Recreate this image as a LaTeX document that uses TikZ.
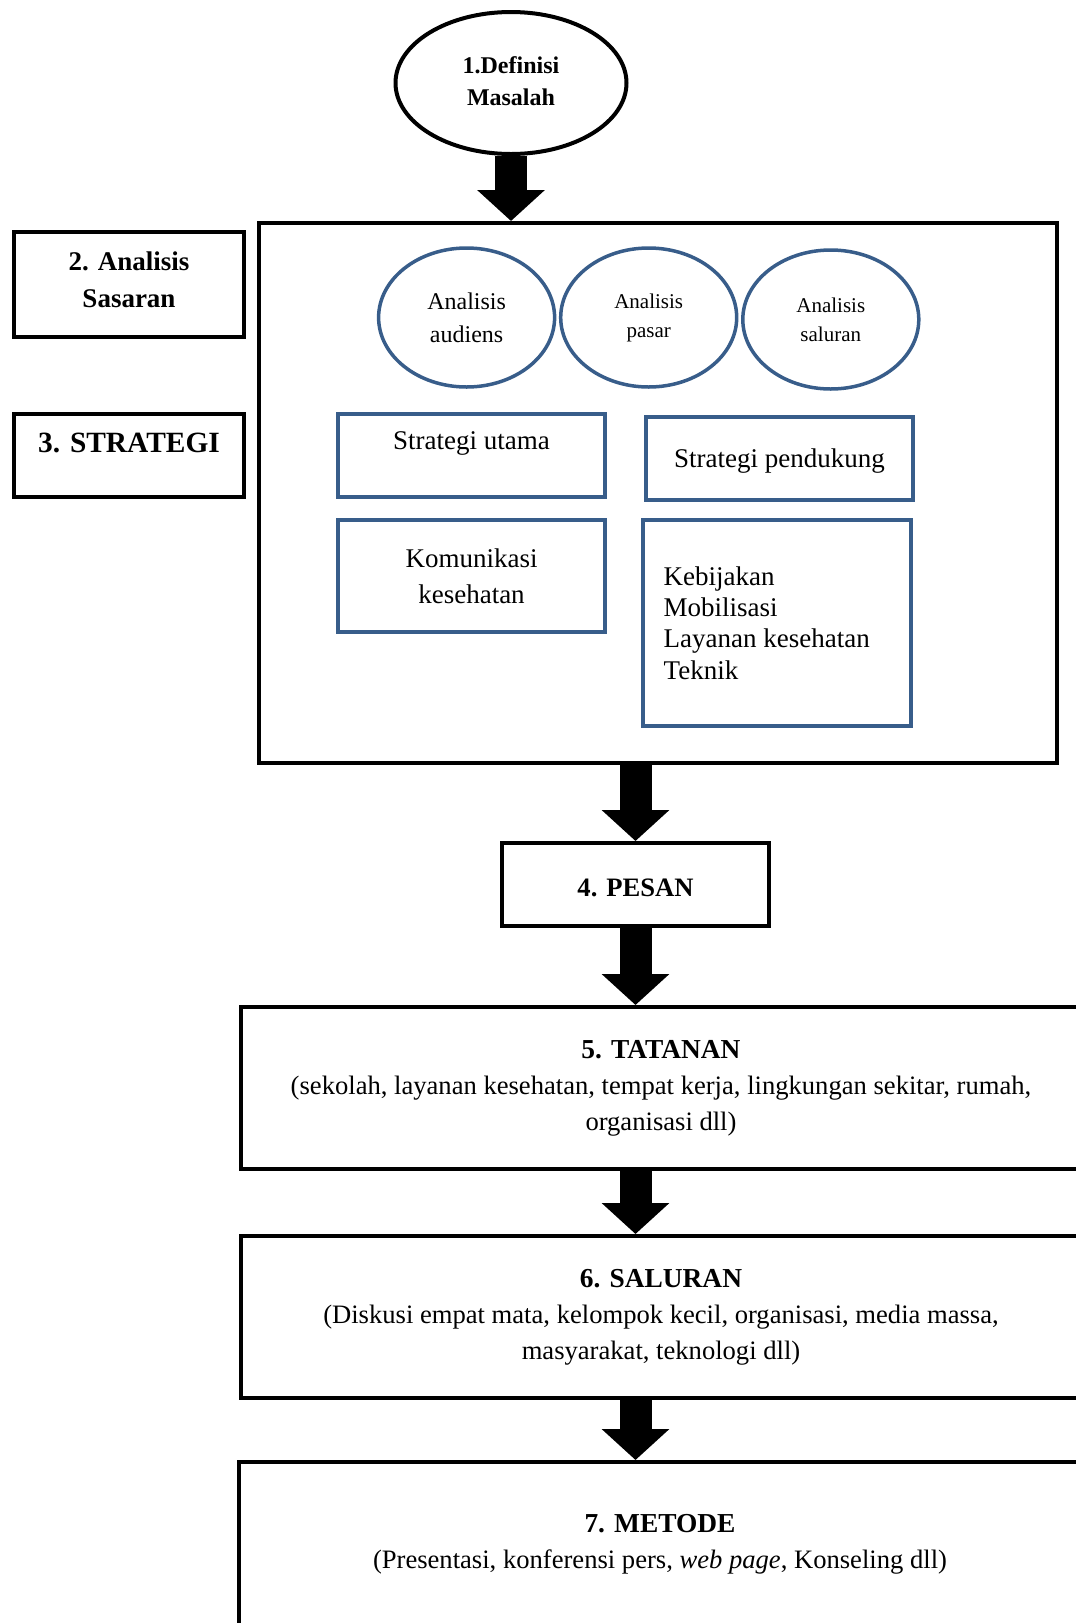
\documentclass[tikz,border=0pt]{standalone}
\usepackage{fontspec}
\setmainfont{Liberation Serif}
\usetikzlibrary{positioning, arrows.meta, shapes.geometric}
\definecolor{bluebox}{RGB}{56,93,138}
\newcommand{\setfs}[2]{\fontsize{#1}{#2}\selectfont}

\begin{document}
\begin{tikzpicture}[x=0.5pt, y=-0.5pt,
    blk/.style={draw=black, line width=2pt, rectangle, inner sep=0pt},
    blu/.style={draw=bluebox, line width=1.75pt, rectangle, inner sep=0pt},
    oval/.style={draw=bluebox, line width=1.75pt, ellipse, inner sep=0pt,
        minimum width=88pt, minimum height=69.5pt, align=center},
    teks/.style={inner sep=0pt, align=center},
    panah/.style={line width=16pt, -{Triangle[width=33pt, length=15.5pt]}}]
    \useasboundingbox (0,0) rectangle (1076,1623);
    \clip (0,0) rectangle (1076,1623);

    % langkah 1
    \node[ellipse, draw, line width=2pt, inner sep=0pt, minimum width=115.5pt, minimum height=71pt] (definisi) at (511,83) {};
    \node[teks, font=\setfs{12}{16}\bfseries] (definisit) at ([yshift=1pt]definisi.center) {1.Definisi\\Masalah};

    % kotak besar dan label kiri
    \node[blk, minimum width=399pt, minimum height=270pt] (kerangka) at (658,493) {};
    \node[blk, minimum width=115pt, minimum height=52.5pt] (sasaran) at (129,284.5) {};
    \node[teks, font=\setfs{13.5}{18.5}\bfseries] (sasarant) at ([yshift=2.6pt]sasaran.center) {2. Analisis\\Sasaran};
    \node[blk, minimum width=115pt, minimum height=41.5pt] (strategi) at (129,455.5) {};
    \node[teks, below=10.5pt of strategi.north, font=\setfs{14.7}{17}\bfseries] (strategit) {3. STRATEGI};

    % analisis
    \node[oval, font=\setfs{12}{16.5}] (audiens) at (466.6,317.5) {Analisis\\audiens};
    \node[oval, font=\setfs{10.5}{14.5}] (pasar) at (648.7,317.5) {Analisis\\pasar};
    \node[oval, font=\setfs{10.5}{14.5}] (kanal) at (830.8,319.5) {Analisis\\saluran};

    % strategi
    \node[blu, minimum width=133.5pt, minimum height=41.5pt] (sutama) at (471.5,455.5) {};
    \node[teks, below=9.5pt of sutama.north, font=\setfs{13.5}{16}] (sutamat) {Strategi utama};
    \node[blu, minimum width=133.5pt, minimum height=41.5pt] (spendukung) at (779.5,458.5) {};
    \node[teks, font=\setfs{13.5}{16}] (spendukungt) at ([yshift=-1.5pt]spendukung.center) {Strategi pendukung};
    \node[blu, minimum width=133.5pt, minimum height=56pt, align=center,
        font=\setfs{13.5}{18}] (komunikasi) at (471.5,576) {Komunikasi\\kesehatan};
    \node[blu, minimum width=134pt, minimum height=103pt] (kebijakan) at (777,623) {};
    \node[right=11pt of kebijakan.west, inner sep=0pt, align=left,
        font=\setfs{13.5}{15.6}] (kebijakant) {Kebijakan\\Mobilisasi\\Layanan kesehatan\\Teknik};

    % langkah 4 - 7
    \node[blk, minimum width=133.5pt, minimum height=41.5pt] (pesan) at (635.5,884.5) {};
    \node[teks, font=\setfs{13.3}{16}\bfseries] (pesant) at ([yshift=-1.5pt]pesan.center) {4. PESAN};
    \node[blk, minimum width=420pt, minimum height=81pt, align=center, font=\setfs{13.3}{18}] (tatanan) at (661,1088)
        {\textbf{\setfs{13.7}{18}5. TATANAN}\\(sekolah, layanan kesehatan, tempat kerja, lingkungan sekitar, rumah,\\organisasi dll)};
    \node[blk, minimum width=420pt, minimum height=81pt, align=center, font=\setfs{13.3}{18}] (saluran) at (661,1317)
        {\textbf{\setfs{13.7}{18}6. SALURAN}\\(Diskusi empat mata, kelompok kecil, organisasi, media massa,\\masyarakat, teknologi dll)};
    \node[blk, minimum width=421pt, minimum height=118pt] (metode) at (660,1580) {};
    \node[teks, below=27pt of metode.north, font=\setfs{13.3}{18}] (metodet)
        {\textbf{\setfs{13.7}{18}7. METODE}\\(Presentasi, konferensi pers, \textit{web page}, Konseling dll)};

    % panah
    \draw[panah] (definisi.south) -- (definisi.south |- kerangka.north);
    \draw[panah] (kerangka.south -| pesan.north) -- (pesan.north);
    \draw[panah] (pesan.south) -- (pesan.south |- tatanan.north);
    \draw[panah] (pesan.south |- tatanan.south) -- (pesan.south |- saluran.north);
    \draw[panah] (pesan.south |- saluran.south) -- (pesan.south |- metode.north);
\end{tikzpicture}
\end{document}
